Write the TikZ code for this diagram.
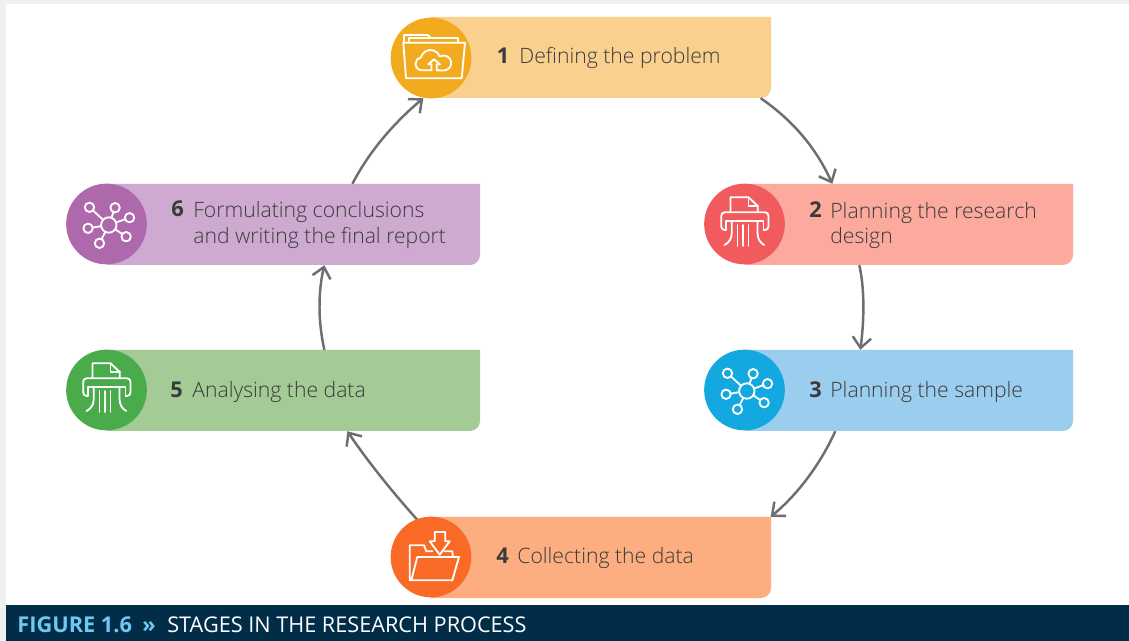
\documentclass[tikz,border=0pt]{standalone}
\usepackage{fontspec}
\setmainfont{Open Sans}
\newfontfamily\lightfont{Open Sans Light}
\usetikzlibrary{arrows.meta,calc}
\definecolor{pagegrey}{HTML}{EFF0F2}
\definecolor{barnavy}{HTML}{022D48}
\definecolor{figblue}{HTML}{6FC8EF}
\definecolor{arrowgrey}{HTML}{6D6E71}
\definecolor{inkgrey}{HTML}{3A3A3A}
\definecolor{discA}{HTML}{F2AB1F}
\definecolor{bandA}{HTML}{F9D08E}
\definecolor{discB}{HTML}{F15B5E}
\definecolor{bandB}{HTML}{FBAA9D}
\definecolor{discC}{HTML}{13A9E0}
\definecolor{bandC}{HTML}{9BCDEE}
\definecolor{discD}{HTML}{F86A25}
\definecolor{bandD}{HTML}{FCAE80}
\definecolor{discE}{HTML}{4AAB4B}
\definecolor{bandE}{HTML}{A4CA96}
\definecolor{discF}{HTML}{AD69AB}
\definecolor{bandF}{HTML}{CFAAD0}
\tikzset{
  disc/.style={circle,minimum size=81*0.5669pt,inner sep=0pt},
  num/.style={anchor=base west,inner sep=0pt,font=\fontsize{12.4pt}{14.7pt}\selectfont\bfseries,text=inkgrey},
  stagetext/.style={anchor=base west,inner sep=0pt,font=\fontsize{12.05pt}{14.7pt}\lightfont,text=inkgrey,align=left},
  link/.style={draw=arrowgrey,line width=1.4pt,-{Straight Barb[length=6pt,width=10.5pt,line width=1.4pt]}},
  iconline/.style={draw=white,line width=1.05pt,line join=round,line cap=round}
}
% band with one rounded corner, then an empty node over it to aim the arrows at
\newcommand{\stageband}[6]{
  \fill [#6] (#2,-#3) -- (#4,-#3) -- (#4,-#5+10) arc (0:-90:10) -- (#2,-#5) -- cycle;
  \node [minimum width=(#4-#2)*0.5669pt,minimum height=(#5-#3)*0.5669pt,inner sep=0pt] (#1) at ({(#2+#4)/2},{-(#3+#5)/2}) {};
}
\newcommand{\iconfolderup}[2]{
  \begin{scope}[shift={(#1,-#2)},iconline]
    \draw (-27.7,15.3) -- (-25,-20.3) -- (30.7,-20.3) -- (34,15.3) -- cycle;
    \draw (-27,15.3) -- (-27,23) -- (-3.3,23) -- (0,19.7);
    \draw (-21.7,15.3) -- (-21.7,19.7) -- (27.3,19.7) -- (27.3,15.3);
    \draw (0.5,-12.3) -- (-9,-12.3) arc (270:100:6.5) arc (165:20:10) arc (120:-90:7.5) -- (5.7,-12.3);
    \draw (0.5,-12.3) -- (0.5,-6.3) -- (-2.7,-6.3) -- (3,-1.3) -- (9,-6.3) -- (5.7,-6.3) -- (5.7,-12.3);
  \end{scope}
}
\newcommand{\iconshredder}[2]{
  \begin{scope}[shift={(#1,-#2)},iconline]
    \draw (-14,11.7) -- (-14,26.7) -- (4,26.7) -- (13.3,18) -- (13.3,11.7);
    \draw (4,26.7) -- (4,18) -- (13.3,18);
    \draw [rounded corners=2pt] (-18.7,-6) -- (-23.3,-6) -- (-23.3,11.7) -- (24,11.7) -- (24,-6) -- (19,-6);
    \draw (-18.7,-6) -- (-18.7,3) -- (19,3) -- (19,-6);
    \draw (-12.7,3) -- (-12.7,-9) .. controls (-12.7,-15) and (-16,-19) .. (-20,-21);
    \draw (13,3) -- (13,-9) .. controls (13,-15) and (16,-19) .. (19.7,-21);
    \foreach \px in {-7,-1.7,4} \draw (\px,-1) -- (\px,-22);
  \end{scope}
}
\newcommand{\iconnetwork}[2]{
  \begin{scope}[shift={(#1+2.3,-#2-1)},iconline]
    \draw (0,0) circle (7.7);
    \foreach \ang/\rad in {137.5/26.2,70/18.4,19.4/22,-34/20.9,-117/20.5,-171/21} {
      \draw (\ang:7.7) -- (\ang:{\rad-4.7});
      \draw (\ang:\rad) circle (4.7);
    }
  \end{scope}
}
\newcommand{\iconfolderdown}[2]{
  \begin{scope}[shift={(#1,-#2)},iconline]
    \draw (-19.7,-23.3) -- (-21.3,-23.3) -- (-21.3,11.7) -- (-7,11.7) -- (-4.7,5.7) -- (1.3,5.7);
    \draw (13.7,5.7) -- (21.3,5.7) -- (22,0);
    \draw (-13.7,0) -- (28,0) -- (21.3,-23.3) -- (-19.7,-23.3) -- cycle;
    \draw (3.7,25) -- (14.3,25) -- (14.3,15.7) -- (18.7,15.7) -- (8.7,2.3) -- (-1.3,15.7) -- (3.7,15.7) -- cycle;
  \end{scope}
}
\begin{document}
\begin{tikzpicture}[x=0.02cm,y=0.02cm]
\fill [pagegrey] (0,0) rectangle (1129,-641);
\fill [white] (6,-4) rectangle (1129,-605);
\fill [barnavy] (6,-605) rectangle (1129,-641);
% the six stages
\stageband{bandone}{431}{17}{771}{98}{bandA}
\stageband{bandtwo}{745}{184}{1073}{265}{bandB}
\stageband{bandthree}{745}{350}{1073}{431}{bandC}
\stageband{bandfour}{431}{517}{771}{598}{bandD}
\stageband{bandfive}{107}{350}{480}{431}{bandE}
\stageband{bandsix}{107}{184}{480}{265}{bandF}
% arrows round the ring
\draw [link] ($(bandone.south east)+(-10,0)$) .. controls (795,-122) and (817,-150) .. ($(bandtwo.north west)+(87,0)$);
\draw [link] ($(bandtwo.south west)+(114,0)$) .. controls (865,-290) and (864,-322) .. ($(bandthree.north west)+(115,0)$);
\draw [link] ($(bandthree.south west)+(90,0)$) .. controls (820,-465) and (797,-495) .. (bandfour.north east);
\draw [link] ($(bandfour.north west)+(-14,-3)$) .. controls (395,-495) and (368,-462) .. ($(bandfive.south west)+(240,0)$);
\draw [link] ($(bandfive.north west)+(217,0)$) .. controls (318,-322) and (318,-292) .. ($(bandsix.south west)+(217,0)$);
\draw [link] ($(bandsix.north west)+(245,0)$) .. controls (370,-150) and (395,-122) .. ($(bandone.south west)+(-8,0)$);
% discs with their icons
\node [disc,fill=discA] (discone) at (431,-58) {};
\node [disc,fill=discB] (disctwo) at (744.5,-224) {};
\node [disc,fill=discC] (discthree) at (744.5,-390) {};
\node [disc,fill=discD] (discfour) at (431,-557) {};
\node [disc,fill=discE] (discfive) at (106.5,-390) {};
\node [disc,fill=discF] (discsix) at (106.5,-224) {};
\iconfolderup{431}{58}
\iconshredder{744.5}{224}
\iconnetwork{744.5}{390}
\iconfolderdown{431}{557}
\iconshredder{106.5}{390}
\iconnetwork{106.5}{224}
% labels
\node [num] (numone) at (496.5,-64) {1};
\node [stagetext] (textone) at (519,-64) {Defining the problem};
\node [num] (numtwo) at (809,-218) {2};
\node [stagetext] (texttwo) at (830,-244) {Planning the research\\design};
\node [num] (numthree) at (809,-398) {3};
\node [stagetext] (textthree) at (830,-398) {Planning the sample};
\node [num] (numfour) at (496,-563) {4};
\node [stagetext] (textfour) at (517,-563) {Collecting the data};
\node [num] (numfive) at (170,-398) {5};
\node [stagetext] (textfive) at (192,-398) {Analysing the data};
\node [num] (numsix) at (171,-217) {6};
\node [stagetext] (textsix) at (193,-243.5) {Formulating conclusions\\and writing the final report};
% caption strip
\node [anchor=base west,inner sep=0pt,font=\fontsize{12.4pt}{14pt}\selectfont\bfseries,text=figblue] (figlabel) at (17,-632) {FIGURE 1.6};
\node [anchor=base west,inner sep=0pt,font=\fontsize{12.4pt}{14pt}\selectfont\bfseries,text=figblue] (figmark) at (142,-632) {»};
\node [anchor=base west,inner sep=0pt,font=\fontsize{12.33pt}{14pt}\selectfont,text=white] (figtitle) at (167,-632) {STAGES IN THE RESEARCH PROCESS};
\end{tikzpicture}
\end{document}
